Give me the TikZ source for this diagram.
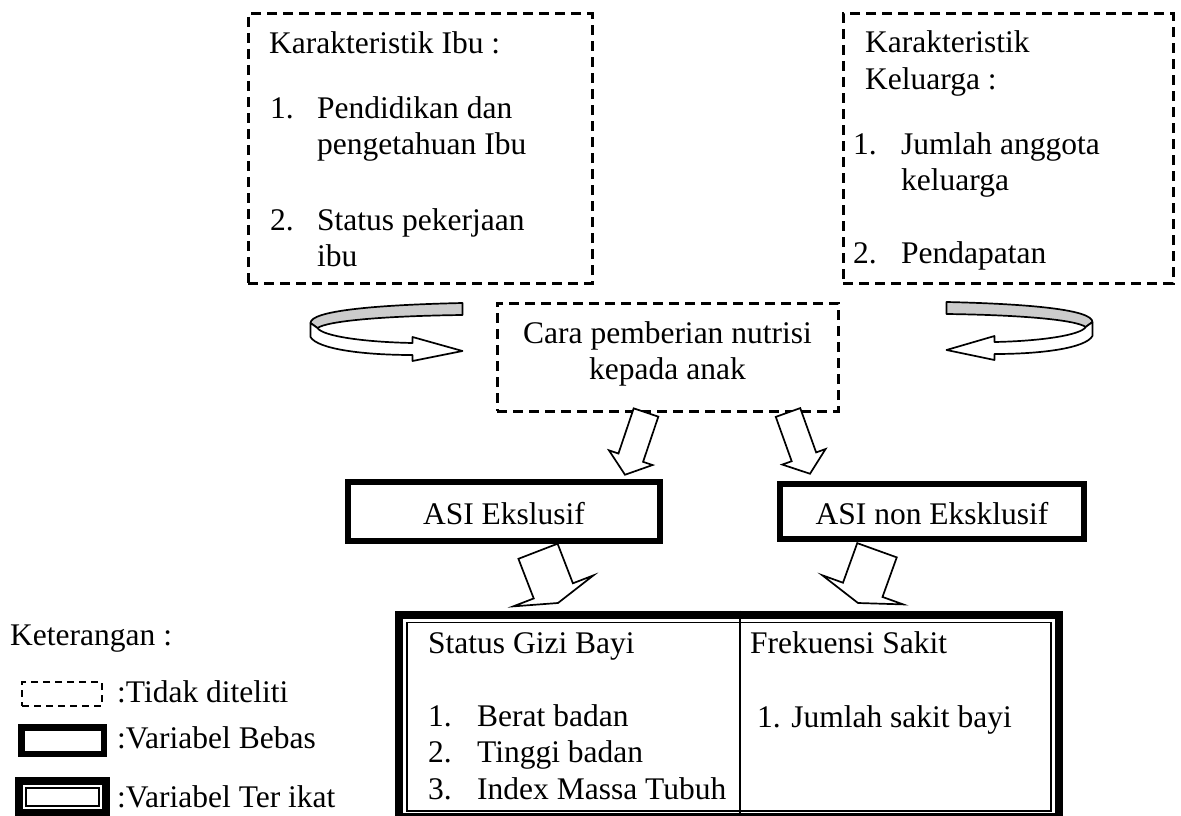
\documentclass[tikz,border=0pt]{standalone}
\usepackage{fontspec}
\setmainfont{Liberation Serif}
\usetikzlibrary{calc}
\definecolor{curlgray}{gray}{0.8}

% hollow block arrow: start, tip, shaft half width, head half width, head length
\newcommand{\fatarrow}[5]{%
  \coordinate (fa-s) at (#1);
  \coordinate (fa-t) at (#2);
  \coordinate (fa-h) at ($(fa-t)!#5!(fa-s)$);
  \draw[fat arrow] ($(fa-s)!#3!90:(fa-t)$) -- ($(fa-h)!#3!90:(fa-t)$) -- ($(fa-h)!#4!90:(fa-t)$)
    -- (fa-t) -- ($(fa-h)!#4!-90:(fa-t)$) -- ($(fa-h)!#3!-90:(fa-t)$) -- ($(fa-s)!#3!-90:(fa-t)$) -- cycle;
}
% curled ribbon arrow, tip at the origin
\newcommand{\curlshape}{%
  \draw[curl line, fill=curlgray] (0,-48) .. controls (-90,-46) and (-152,-40) .. (-152,-28)
    -- (-145,-23) .. controls (-135,-30) and (-80,-35) .. (0,-36) -- cycle;
  \draw[curl line, fill=white] (-152,-28) -- (-152,-14) .. controls (-145,-2) and (-100,4) .. (-50,4)
    -- (-50,10) -- (0,0) -- (-50,-14) -- (-50,-8) .. controls (-100,-9) and (-140,-15) .. (-145,-23) -- cycle;
}

\begin{document}
\begin{tikzpicture}[x=1pt,y=-1pt,
    every node/.style={font=\fontsize{31.5}{36.5}\selectfont, inner sep=0pt}]
        \tikzstyle{dash box}=[draw, dash pattern=on 10pt off 6pt, line width=3pt]
        \tikzstyle{thick box}=[draw, line width=6pt]
        \tikzstyle{fat arrow}=[draw, fill=white, line width=1.7pt, line join=miter]
        \tikzstyle{curl line}=[line width=1.7pt, line join=round]
        \useasboundingbox (0,0) rectangle (1181,816);

        % faktor yang tidak diteliti
        \node[dash box, minimum width=344pt, minimum height=269pt] (ibu) at (420,148.5) {};
        \node[anchor=base west] (ibuT) at (269,54) {Karakteristik Ibu :};
        \node[anchor=base west] (ibu1) at (270,118) {\begin{tabular}[t]{@{}p{47pt}@{}l@{}}1. & Pendidikan dan\\ & pengetahuan Ibu\end{tabular}};
        \node[anchor=base west] (ibu2) at (270,230) {\begin{tabular}[t]{@{}p{47pt}@{}l@{}}2. & Status pekerjaan\\ & ibu\end{tabular}};

        \node[dash box, minimum width=330pt, minimum height=269pt] (kel) at (1008,148.5) {};
        \node[anchor=base west] (kelT) at (865,53) {\begin{tabular}[t]{@{}l@{}}Karakteristik\\Keluarga :\end{tabular}};
        \node[anchor=base west] (kel1) at (853,154) {\begin{tabular}[t]{@{}p{48pt}@{}l@{}}1. & Jumlah anggota\\ & keluarga\end{tabular}};
        \node[anchor=base west] (kel2) at (853,263) {\begin{tabular}[t]{@{}p{48pt}@{}l@{}}2. & Pendapatan\end{tabular}};

        \node[dash box, minimum width=341pt, minimum height=108pt] (cara) at (667.5,357) {};
        \node[anchor=base] (caraT) at (667.5,343) {\begin{tabular}[t]{@{}c@{}}Cara pemberian nutrisi\\kepada anak\end{tabular}};

        % variabel bebas
        \node[thick box, minimum width=312.5pt, minimum height=59.5pt, text height=26pt, text depth=0pt] (asi) at (504,511.5) {ASI Ekslusif};
        \node[thick box, minimum width=304.5pt, minimum height=55.5pt, text height=26pt, text depth=0pt] (non) at (932,511.5) {ASI non Eksklusif};

        % variabel terikat
        \node[draw, line width=8pt, minimum width=660pt, minimum height=202.5pt] (hasil) at (729,715.75) {};
        \draw[line width=1.8pt] ($(hasil.north west)+(12,12)$) rectangle ($(hasil.south east)+(-12,-10)$);
        \coordinate (div) at (740,0);
        \draw[line width=1.8pt] (hasil.north -| div) -- (hasil.south -| div);
        \node[anchor=base west] (gizi) at (428,653) {Status Gizi Bayi};
        \node[anchor=base west] (gizi1) at (428,726) {\begin{tabular}[t]{@{}p{49pt}@{}l@{}}1. & Berat badan\\2. & Tinggi badan\\3. & Index Massa Tubuh\end{tabular}};
        \node[anchor=base west] (sakit) at (750,653) {Frekuensi Sakit};
        \node[anchor=base west] (sakit1) at (757,727) {1. Jumlah sakit bayi};

        % panah melengkung
        \coordinate (curlL) at ($(cara.west)+(-33,-6)$);
        \coordinate (curlR) at ($(cara.east)+(107,-7)$);
        \begin{scope}[shift={(curlL)}]
          \curlshape
        \end{scope}
        \begin{scope}[shift={(curlR)}, xscale=-0.96]
          \curlshape
        \end{scope}

        % panah blok
        \fatarrow{$(cara.south)+(-21.5,0)$}{$(asi.north)+(121,-4)$}{13pt}{23pt}{18pt}
        \fatarrow{$(cara.south)+(120.5,0)$}{$(non.north)+(-122,-7)$}{13pt}{23pt}{18pt}
        \fatarrow{$(asi.south)+(34,7)$}{$(hasil.north)+(-171,-7.5)$}{21pt}{43pt}{13pt}
        \fatarrow{$(non.south)+(-55,8)$}{$(hasil.north)+(129,-7.5)$}{21pt}{43pt}{14pt}

        % keterangan
        \node[anchor=base west] (ket) at (10,645) {Keterangan :};
        \node[draw, dash pattern=on 7pt off 5pt, line width=2pt, minimum width=80pt, minimum height=24pt] (k1) at (62,694) {};
        \node[anchor=base west] (k1T) at (117,702) {:Tidak diteliti};
        \node[draw, line width=6.5pt, minimum width=82.5pt, minimum height=26.5pt] (k2) at (62.5,740.5) {};
        \node[anchor=base west] (k2T) at (117,748) {:Variabel Bebas};
        \node[draw, line width=8pt, minimum width=87pt, minimum height=32pt] (k3) at (62.5,797) {};
        \draw[line width=1.8pt] ($(k3.north west)+(11,11)$) rectangle ($(k3.south east)+(-11,-11)$);
        \node[anchor=base west] (k3T) at (117,807) {:Variabel Ter ikat};
\end{tikzpicture}
\end{document}
